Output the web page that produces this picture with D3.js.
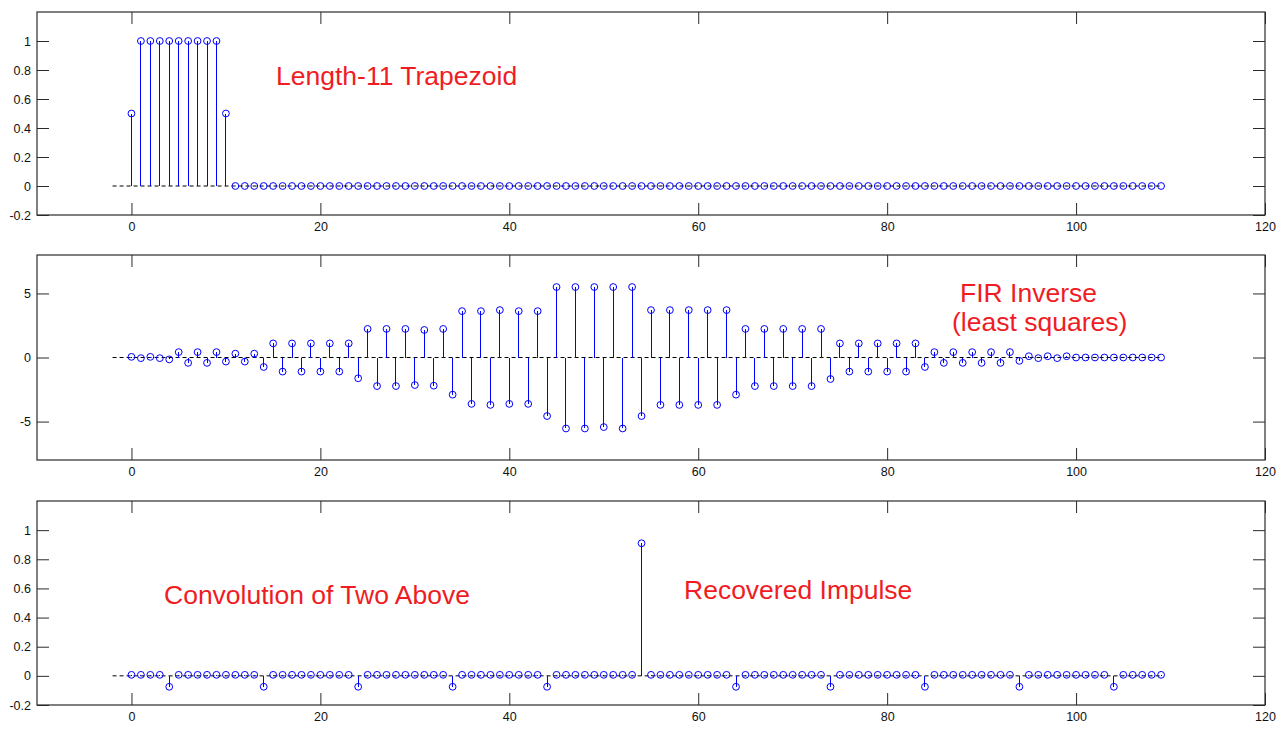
<!DOCTYPE html>
<html>
<head>
<meta charset="utf-8">
<script src="https://cdn.jsdelivr.net/npm/d3@7"></script>
<style>
    body { margin: 0; background: #ffffff; }
    svg { display: block; }
</style>
</head>
<body>
<div id="chart"></div>
<script>
// Sample index shared by all three panels
const sampleIndex = [
    0, 1, 2, 3, 4, 5, 6, 7, 8, 9, 10, 11, 12, 13, 14, 15, 16, 17, 18, 19,
    20, 21, 22, 23, 24, 25, 26, 27, 28, 29, 30, 31, 32, 33, 34, 35, 36, 37, 38, 39,
    40, 41, 42, 43, 44, 45, 46, 47, 48, 49, 50, 51, 52, 53, 54, 55, 56, 57, 58, 59,
    60, 61, 62, 63, 64, 65, 66, 67, 68, 69, 70, 71, 72, 73, 74, 75, 76, 77, 78, 79,
    80, 81, 82, 83, 84, 85, 86, 87, 88, 89, 90, 91, 92, 93, 94, 95, 96, 97, 98, 99,
    100, 101, 102, 103, 104, 105, 106, 107, 108, 109
];

// Length-11 trapezoid
const trapezoidValues = [
    0.5, 1, 1, 1, 1, 1, 1, 1, 1, 1, 0.5, 0, 0, 0, 0, 0, 0, 0, 0, 0,
    0, 0, 0, 0, 0, 0, 0, 0, 0, 0, 0, 0, 0, 0, 0, 0, 0, 0, 0, 0,
    0, 0, 0, 0, 0, 0, 0, 0, 0, 0, 0, 0, 0, 0, 0, 0, 0, 0, 0, 0,
    0, 0, 0, 0, 0, 0, 0, 0, 0, 0, 0, 0, 0, 0, 0, 0, 0, 0, 0, 0,
    0, 0, 0, 0, 0, 0, 0, 0, 0, 0, 0, 0, 0, 0, 0, 0, 0, 0, 0, 0,
    0, 0, 0, 0, 0, 0, 0, 0, 0, 0
];

// FIR inverse (least squares)
const firInverseValues = [
    0.05, -0.05, 0.05, -0.05, -0.15, 0.42, -0.42, 0.42, -0.42, 0.42,
    -0.32, 0.3, -0.32, 0.3, -0.74, 1.1, -1.1, 1.1, -1.1, 1.1,
    -1.1, 1.1, -1.1, 1.1, -1.62, 2.23, -2.23, 2.23, -2.23, 2.23,
    -2.15, 2.15, -2.2, 2.23, -2.9, 3.62, -3.62, 3.62, -3.7, 3.7,
    -3.62, 3.62, -3.62, 3.62, -4.57, 5.5, -5.54, 5.5, -5.54, 5.5,
    -5.43, 5.5, -5.54, 5.5, -4.57, 3.7, -3.7, 3.7, -3.7, 3.7,
    -3.7, 3.7, -3.7, 3.7, -2.9, 2.23, -2.23, 2.23, -2.23, 2.23,
    -2.23, 2.23, -2.23, 2.23, -1.68, 1.1, -1.1, 1.1, -1.1, 1.1,
    -1.1, 1.1, -1.1, 1.1, -0.74, 0.42, -0.42, 0.42, -0.42, 0.42,
    -0.42, 0.42, -0.42, 0.42, -0.26, 0.1, -0.05, 0.1, -0.05, 0.1,
    0, 0, 0, 0, 0, 0, 0, 0, 0, 0
];

// Convolution of the two above
const convolutionValues = [
    0.007, 0.007, 0.007, 0.007, -0.075, 0.007, 0.007, 0.007, 0.007, 0.007,
    0.007, 0.007, 0.007, 0.007, -0.075, 0.007, 0.007, 0.007, 0.007, 0.007,
    0.007, 0.007, 0.007, 0.007, -0.075, 0.007, 0.007, 0.007, 0.007, 0.007,
    0.007, 0.007, 0.007, 0.007, -0.075, 0.007, 0.007, 0.007, 0.007, 0.007,
    0.007, 0.007, 0.007, 0.007, -0.075, 0.007, 0.007, 0.007, 0.007, 0.007,
    0.007, 0.007, 0.007, 0.007, 0.91, 0.007, 0.007, 0.007, 0.007, 0.007,
    0.007, 0.007, 0.007, 0.007, -0.075, 0.007, 0.007, 0.007, 0.007, 0.007,
    0.007, 0.007, 0.007, 0.007, -0.075, 0.007, 0.007, 0.007, 0.007, 0.007,
    0.007, 0.007, 0.007, 0.007, -0.075, 0.007, 0.007, 0.007, 0.007, 0.007,
    0.007, 0.007, 0.007, 0.007, -0.075, 0.007, 0.007, 0.007, 0.007, 0.007,
    0.007, 0.007, 0.007, 0.007, -0.075, 0.007, 0.007, 0.007, 0.007, 0.007
];

// Axis settings
const xDomain = [-10, 120];
const xTicks = [0, 20, 40, 60, 80, 100, 120];
const baselineExtent = [-2, 109];
const unitDomain = [-0.2, 1.2];
const unitTicks = [-0.2, 0, 0.2, 0.4, 0.6, 0.8, 1];
const firDomain = [-8, 8];
const firTicks = [-5, 0, 5];

const panels = [
    { values: trapezoidValues, yDomain: unitDomain, yTicks: unitTicks, top: 12, bottom: 215,
      notes: [{ text: "Length-11 Trapezoid", x: 276, y: 85 }] },
    { values: firInverseValues, yDomain: firDomain, yTicks: firTicks, top: 255, bottom: 460,
      notes: [{ text: "FIR Inverse", x: 960, y: 302 }, { text: "(least squares)", x: 952, y: 331 }] },
    { values: convolutionValues, yDomain: unitDomain, yTicks: unitTicks, top: 501, bottom: 705,
      notes: [{ text: "Convolution of Two Above", x: 164, y: 604 }, { text: "Recovered Impulse", x: 684, y: 599 }] }
];

const plotLeft = 37;
const plotRight = 1265;
const tickLen = 12;
const stemColor = "#0000ff";
const axisColor = "#2b2b2b";
const fontStack = "'Liberation Sans', Arial, sans-serif";

var svg = d3.select("#chart")
    .append("svg")
    .attr("width", 1286)
    .attr("height", 729);

function drawPanel(panel)
{
    var x = d3.scaleLinear()
        .domain(xDomain)
        .range([plotLeft, plotRight]);

    var y = d3.scaleLinear()
        .domain(panel.yDomain)
        .range([panel.bottom, panel.top]);

    var g = svg.append("g");
    let plainLabel = d => String(d); // "1", "0.8", "-5" like MATLAB

    // Bottom axis with labels, ticks pointing inward
    g.append("g")
        .attr("transform", "translate(0," + panel.bottom + ")")
        .call(d3.axisBottom(x).tickValues(xTicks).tickSize(-tickLen).tickSizeOuter(0).tickPadding(7).tickFormat(plainLabel));

    // Top axis, ticks only
    g.append("g")
        .attr("transform", "translate(0," + panel.top + ")")
        .call(d3.axisTop(x).tickValues(xTicks).tickSize(-tickLen).tickSizeOuter(0).tickFormat(""));

    // Left axis with labels
    g.append("g")
        .attr("transform", "translate(" + plotLeft + ",0)")
        .call(d3.axisLeft(y).tickValues(panel.yTicks).tickSize(-tickLen).tickSizeOuter(0).tickPadding(6).tickFormat(plainLabel));

    // Right axis, ticks only
    g.append("g")
        .attr("transform", "translate(" + plotRight + ",0)")
        .call(d3.axisRight(y).tickValues(panel.yTicks).tickSize(-tickLen).tickSizeOuter(0).tickFormat(""));

    g.selectAll(".domain").remove();
    g.selectAll(".tick line").attr("stroke", axisColor);
    g.selectAll(".tick text")
        .attr("fill", "#111")
        .style("font-family", fontStack)
        .style("font-size", "12.5px");

    // Box round the plot
    g.append("rect")
        .attr("x", plotLeft)
        .attr("y", panel.top)
        .attr("width", plotRight - plotLeft)
        .attr("height", panel.bottom - panel.top)
        .attr("fill", "none")
        .attr("stroke", axisColor)
        .attr("stroke-width", 1.2);

    let data = sampleIndex.map((n, i) => ({ x: n, y: panel.values[i] }));

    // Dashed baseline
    g.append("path")
        .datum(baselineExtent)
        .attr("fill", "none")
        .attr("stroke", "#000")
        .attr("stroke-width", 1)
        .attr("stroke-dasharray", "4,3")
        .attr("d", d3.line()
            .x(d => x(d))
            .y(() => y(0))
        );

    // Stems
    g.selectAll(".stem")
        .data(data)
        .enter()
        .append("line")
        .attr("class", "stem")
        .attr("x1", d => x(d.x))
        .attr("x2", d => x(d.x))
        .attr("y1", y(0))
        .attr("y2", d => y(d.y))
        .attr("stroke", stemColor)
        .attr("stroke-width", 1)
        .attr("shape-rendering", "crispEdges");

    // Circle markers
    g.selectAll(".marker")
        .data(data)
        .enter()
        .append("circle")
        .attr("class", "marker")
        .attr("cx", d => x(d.x))
        .attr("cy", d => y(d.y))
        .attr("r", 3.4)
        .attr("fill", "none")
        .attr("stroke", stemColor)
        .attr("stroke-width", 1);

    // Red annotations
    g.selectAll(".note")
        .data(panel.notes)
        .enter()
        .append("text")
        .attr("class", "note")
        .attr("x", d => d.x)
        .attr("y", d => d.y)
        .attr("fill", "#f01c24")
        .style("font-family", fontStack)
        .style("font-size", "26.5px")
        .text(d => d.text);
}

panels.forEach(drawPanel);
</script>
</body>
</html>
